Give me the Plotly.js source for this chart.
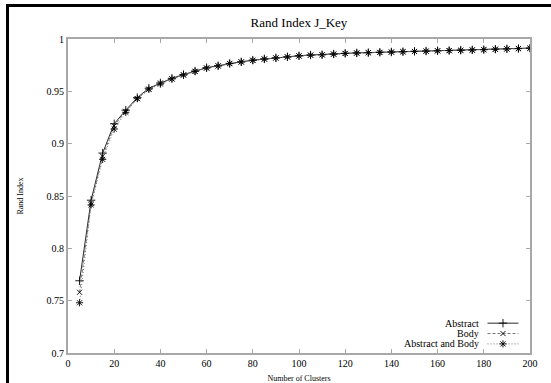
<!DOCTYPE html>
<html>
<head>
<meta charset="utf-8">
<script src="https://cdn.plot.ly/plotly-3.0.1.min.js"></script>
<style>
  html, body { margin: 0; padding: 0; background: #fff; }
  #wrap { position: relative; width: 551px; height: 383px; overflow: hidden; }
  #frame { position: absolute; left: 6px; top: 4px; width: 600px; height: 420px;
           border-left: 3px solid #000; border-top: 3px solid #000; pointer-events: none; z-index: 5; }
  #chart { position: absolute; left: 0; top: 0; width: 551px; height: 383px; }
</style>
</head>
<body>
<div id="wrap">
  <div id="chart"></div>
  <div id="frame"></div>
</div>
<script>
const clusters = [5,10,15,20,25,30,35,40,45,50,55,60,65,70,75,80,85,90,95,100,
                  105,110,115,120,125,130,135,140,145,150,155,160,165,170,175,180,185,190,195,200];
const abstractVals = [0.769,0.846,0.891,0.919,0.932,0.944,0.953,0.958,0.9625,0.966,
                      0.9694,0.9726,0.9745,0.9767,0.9782,0.9798,0.981,0.982,0.983,0.984,
                      0.9847,0.985,0.9857,0.9863,0.9867,0.987,0.9873,0.9876,0.9879,0.9882,
                      0.9885,0.9888,0.989,0.9893,0.9896,0.9899,0.9903,0.9906,0.9909,0.9913];
const bodyVals     = [0.758,0.843,0.888,0.917,0.931,0.943,0.952,0.958,0.962,0.9658,
                      0.9692,0.9724,0.9744,0.9766,0.9781,0.9797,0.9809,0.9819,0.9829,0.9839,
                      0.9846,0.9849,0.9856,0.9862,0.9866,0.9869,0.9872,0.9875,0.9878,0.9881,
                      0.9884,0.9887,0.9889,0.9892,0.9895,0.9898,0.9902,0.9905,0.9908,0.9912];
const bothVals     = [0.748,0.8415,0.885,0.914,0.930,0.943,0.952,0.957,0.9618,0.9655,
                      0.969,0.9722,0.9742,0.9765,0.978,0.9796,0.9808,0.9818,0.9828,0.9838,
                      0.9845,0.9849,0.9855,0.9862,0.9866,0.9869,0.9872,0.9875,0.9878,0.9881,
                      0.9884,0.9887,0.9889,0.9892,0.9895,0.9898,0.9902,0.9905,0.9908,0.9912];
const seriesNames = ["Abstract", "Body", "Abstract and Body"];
const xTicks = [0,20,40,60,80,100,120,140,160,180,200];
const yTicks = [0.7,0.75,0.8,0.85,0.9,0.95,1];
const yTickText = ["0.7","0.75","0.8","0.85","0.9","0.95","1"];

const styles = [
  {line: {color: "#111", width: 0.9, dash: "solid"}, marker: {symbol: "cross-thin", size: 6, color: "#000", line: {color: "#000", width: 0.9}}},
  {line: {color: "#666", width: 0.9, dash: "3px,2px"}, marker: {symbol: "x-thin", size: 5, color: "#000", line: {color: "#000", width: 0.9}}},
  {line: {color: "#666", width: 0.9, dash: "1px,2px"}, marker: {symbol: "asterisk-open", size: 6, color: "#000", line: {color: "#000", width: 0.9}}}
];
const vals = [abstractVals, bodyVals, bothVals];
const font = "Liberation Serif, Times New Roman, serif";

const traces = vals.map((v, i) => ({
  type: "scatter", mode: "lines+markers", x: clusters, y: v, name: seriesNames[i],
  line: styles[i].line, marker: styles[i].marker, showlegend: false, hoverinfo: "skip"
}));

// Legend samples drawn on an overlay axis with a unit range
const legY = [0.095, 0.062, 0.029];
seriesNames.forEach((n, i) => {
  traces.push({type: "scatter", mode: "lines", x: [0.908, 0.975], y: [legY[i], legY[i]],
    xaxis: "x2", yaxis: "y2", line: styles[i].line, showlegend: false, hoverinfo: "skip"});
  traces.push({type: "scatter", mode: "markers", x: [0.9415], y: [legY[i]],
    xaxis: "x2", yaxis: "y2", marker: styles[i].marker, showlegend: false, hoverinfo: "skip"});
});

const annotations = seriesNames.map((n, i) => ({
  xref: "x2", yref: "y2", x: 0.893, y: legY[i], text: n, showarrow: false,
  xanchor: "right", yanchor: "middle", font: {family: font, size: 10, color: "#000"}
}));

const axisCommon = {
  showline: true, linecolor: "#a8a8a8", linewidth: 2, mirror: "ticks",
  ticks: "inside", ticklen: 4, tickwidth: 1, tickcolor: "#a8a8a8",
  showgrid: false, zeroline: false, tickfont: {family: font, size: 10, color: "#000"}
};

const layout = {
  width: 551, height: 383,
  margin: {l: 68, r: 21, t: 39, b: 30},
  paper_bgcolor: "#fff", plot_bgcolor: "#fff",
  font: {family: font, color: "#000"},
  title: {text: "Rand Index J_Key", font: {family: font, size: 13, color: "#000"},
          x: 0.5, xref: "paper", xanchor: "center", y: 0.942, yanchor: "middle"},
  xaxis: Object.assign({}, axisCommon, {range: [0, 200], tickvals: xTicks,
          title: {text: "Number of Clusters", font: {family: font, size: 8, color: "#000"}, standoff: 11}}),
  yaxis: Object.assign({}, axisCommon, {range: [0.7, 1], tickvals: yTicks, ticktext: yTickText,
          title: {text: "Rand Index", font: {family: font, size: 8, color: "#000"}, standoff: 22}}),
  xaxis2: {overlaying: "x", range: [0, 1], visible: false, fixedrange: true},
  yaxis2: {overlaying: "y", range: [0, 1], visible: false, fixedrange: true},
  annotations: annotations,
  showlegend: false
};

Plotly.newPlot("chart", traces, layout, {displayModeBar: false, staticPlot: true});
</script>
</body>
</html>
